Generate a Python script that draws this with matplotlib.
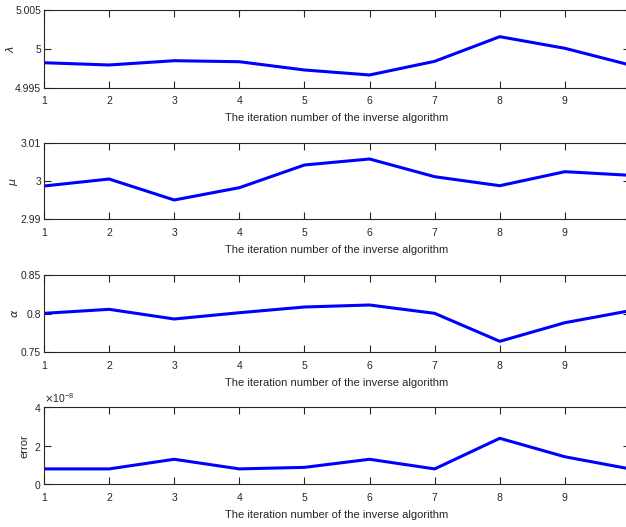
import matplotlib
matplotlib.use("Agg")
import matplotlib.pyplot as plt
from matplotlib.ticker import ScalarFormatter

plt.rcParams['font.family'] = ['Liberation Sans Narrow', 'Liberation Sans', 'DejaVu Sans']

iterations = [1, 2, 3, 4, 5, 6, 7, 8, 9, 10]
lam = [4.99824, 4.99795, 4.99850, 4.99837, 4.99731, 4.99667, 4.99842, 5.00158, 5.00009, 4.99795]
mu = [2.99876, 3.00060, 2.99508, 2.99832, 3.00429, 3.00587, 3.00121, 2.99884, 3.00253, 3.00158]
alpha = [0.8004, 0.8056, 0.7931, 0.8012, 0.8086, 0.8112, 0.8004, 0.7642, 0.7883, 0.8038]
error = [0.80e-8, 0.80e-8, 1.30e-8, 0.80e-8, 0.88e-8, 1.30e-8, 0.80e-8, 2.39e-8, 1.43e-8, 0.80e-8]

xticks = [1, 2, 3, 4, 5, 6, 7, 8, 9]
series = [
    (lam, r'$\lambda$', (4.995, 5.005), [4.995, 5.0, 5.005], ['4.995', '5', '5.005'], 16),
    (mu, r'$\mu$', (2.99, 3.01), [2.99, 3.0, 3.01], ['2.99', '3', '3.01'], 20),
    (alpha, r'$\alpha$', (0.75, 0.85), [0.75, 0.8, 0.85], ['0.75', '0.8', '0.85'], 20),
    (error, 'error', (0, 4e-8), [0, 2e-8, 4e-8], None, 30),
]
xlabel = 'The iteration number of the inverse algorithm'

fig = plt.figure(figsize=(6.26, 5.27), dpi=100)
left = 44 / 626
width = 586 / 626
rects = [(88, 78), (219.3, 76), (352.3, 77.3), (484.3, 77)]
grey = '#262626'

for (vals, ylab, ylim, yt, ytl, ylx), (bot, h) in zip(series, rects):
    ax = fig.add_axes([left, (527 - bot) / 527, width, h / 527])
    ax.plot(iterations, vals, color=(0, 0, 1), lw=2.2)
    ax.set_xlim(1, 10)
    ax.set_ylim(*ylim)
    ax.set_xticks(xticks)
    ax.set_yticks(yt)
    if ytl is not None:
        ax.set_yticklabels(ytl)
    else:
        fmt = ScalarFormatter(useMathText=True)
        fmt.set_powerlimits((0, 0))
        ax.yaxis.set_major_formatter(fmt)
        ax.yaxis.get_offset_text().set_fontsize(7.5)
        ax.yaxis.get_offset_text().set_color(grey)
    ax.tick_params(direction='in', length=5, width=0.8, top=True, right=True,
                   labelsize=7.5, colors=grey)
    ax.tick_params(axis='x', pad=6)
    ax.tick_params(axis='y', pad=2)
    for s in ax.spines.values():
        s.set_color(grey)
        s.set_linewidth(0.8)
    ax.set_xlabel(xlabel, fontsize=8, color=grey, labelpad=5)
    ax.set_ylabel(ylab, fontsize=8, color=grey)
    ax.yaxis.set_label_coords((ylx - 44) / 586, 0.5)

fig.savefig('out.png', dpi=100)
